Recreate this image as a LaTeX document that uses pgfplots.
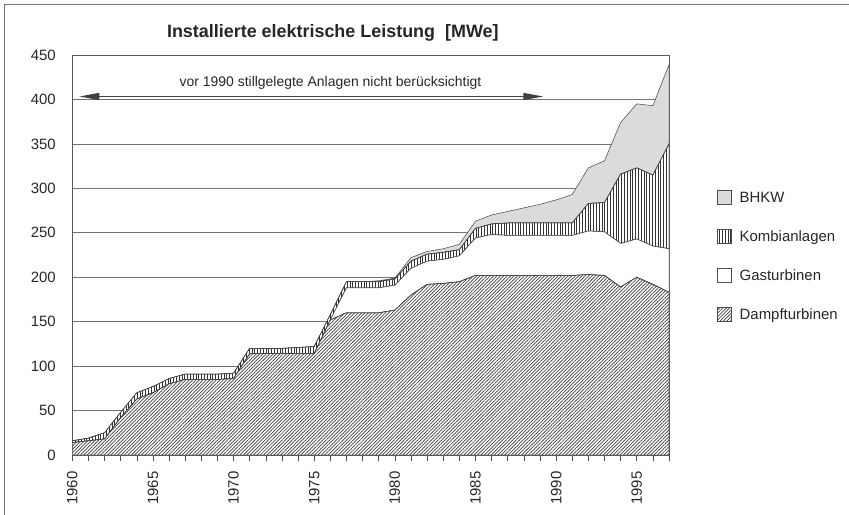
\documentclass[border=0pt]{standalone}
\usepackage{fontspec}
\setmainfont{Liberation Sans}
\usepackage{pgfplots}
\usepackage{pgfplotstable}
\pgfplotsset{compat=1.18}
\usetikzlibrary{patterns.meta,arrows.meta}

\pgfplotstableread{
year D G K B
1960 14 0 2 0
1961 16 0 3 0
1962 18 0 7 0
1963 42 0 6 0
1964 63 0 7 0
1965 70 0 7 0
1966 80 0 6 0
1967 85 0 6 0
1968 85 0 6 0
1969 85 0 6 0
1970 86 0 6 0
1971 114 0 6 0
1972 114 0 6 0
1973 114 0 6 0
1974 114 0 7 0
1975 114 0 8 0
1976 152 0 6 0
1977 160 28 7 0
1978 160 28 7 0
1979 160 28 7 1
1980 163 28 7 1
1981 180 30 8 4
1982 192 26 8 3
1983 193 27 8 4
1984 195 29 7 6
1985 202 42 11 8
1986 202 46 12 10
1987 202 45 14 13
1988 202 45 14 17
1989 202 45 14 21
1990 202 45 14 26
1991 202 45 14 32
1992 203 49 31 40
1993 202 49 33 47
1994 189 49 78 58
1995 200 43 80 72
1996 192 43 80 78
1997 183 49 118 89
}\datatable

\begin{document}
\begin{tikzpicture}
\path[use as bounding box] (-72.3bp,-60bp) rectangle (776.7bp,455bp);
\draw[black!55,line width=1bp] (-67.3bp,-60bp) -- (-67.3bp,450bp) -- (776.7bp,450bp);
\begin{axis}[
  at={(0,0)}, anchor=south west,
  scale only axis, width=596.7bp, height=400bp,
  xmin=1960, xmax=1997, ymin=0, ymax=450,
  xtick={1960,1965,...,1995}, minor xtick={1960,...,1997},
  ytick={0,50,...,450},
  ymajorgrids, major grid style={black!55, line width=0.6bp},
  tick align=outside, xtick pos=bottom,
  major tick length=6bp, minor tick length=6bp,
  ytick style={draw=none},
  xtick style={black!70, line width=0.6bp},
  axis line style={black!65, line width=0.8bp},
  stack plots=y,
  /pgf/number format/assume math mode=true,
  tick label style={font=\fontsize{15}{15}\selectfont, text=black!85},
  xticklabel style={rotate=90, anchor=east, /pgf/number format/1000 sep={}},
  xticklabel shift=7bp,
  yticklabel shift=7bp,
  reverse legend,
  legend cell align=left,
  legend image code/.code={\draw[#1,draw=black!70,line width=0.5bp] (0bp,-7bp) rectangle (14bp,7bp);},
  legend style={at={(1.0804,0.6635)}, anchor=north west, draw=none, fill=none,
    inner sep=0pt, row sep=24.5bp,
    font=\fontsize{15}{15}\selectfont, text=black!85,
    nodes={inner sep=0pt, text height=11bp, text depth=0pt},
    /tikz/every odd column/.append style={column sep=8bp}},
]
\addplot[draw=black!75, line width=0.5bp, fill=white,
  postaction={pattern={Lines[angle=45,distance=2.4bp,line width=0.7bp]}, pattern color=black!75}]
  table[x=year,y=D]{\datatable} \closedcycle;
\addplot[draw=black!75, line width=0.5bp, fill=white]
  table[x=year,y=G]{\datatable} \closedcycle;
\addplot[draw=black!75, line width=0.5bp, fill=white,
  postaction={pattern={Lines[angle=90,distance=2.8bp,line width=0.9bp]}, pattern color=black!80}]
  table[x=year,y=K]{\datatable} \closedcycle;
\addplot[draw=black!75, line width=0.5bp, fill=black!14]
  table[x=year,y=B]{\datatable} \closedcycle;
\legend{Dampfturbinen, Gasturbinen, Kombianlagen, BHKW}
\end{axis}
\node[font=\bfseries\fontsize{18}{18}\selectfont, text=black!85] at (260.5bp,422bp) {Installierte elektrische Leistung\ \ [MWe]};
\node[font=\fontsize{14}{14}\selectfont, text=black!85] at (258.2bp,372bp) {vor 1990 stillgelegte Anlagen nicht berücksichtigt};
\draw[black!75, line width=1.2bp, {Triangle[length=20bp,width=7bp]}-{Triangle[length=20bp,width=7bp]}] (7bp,358.5bp) -- (471bp,358.5bp);
\end{tikzpicture}
\end{document}
